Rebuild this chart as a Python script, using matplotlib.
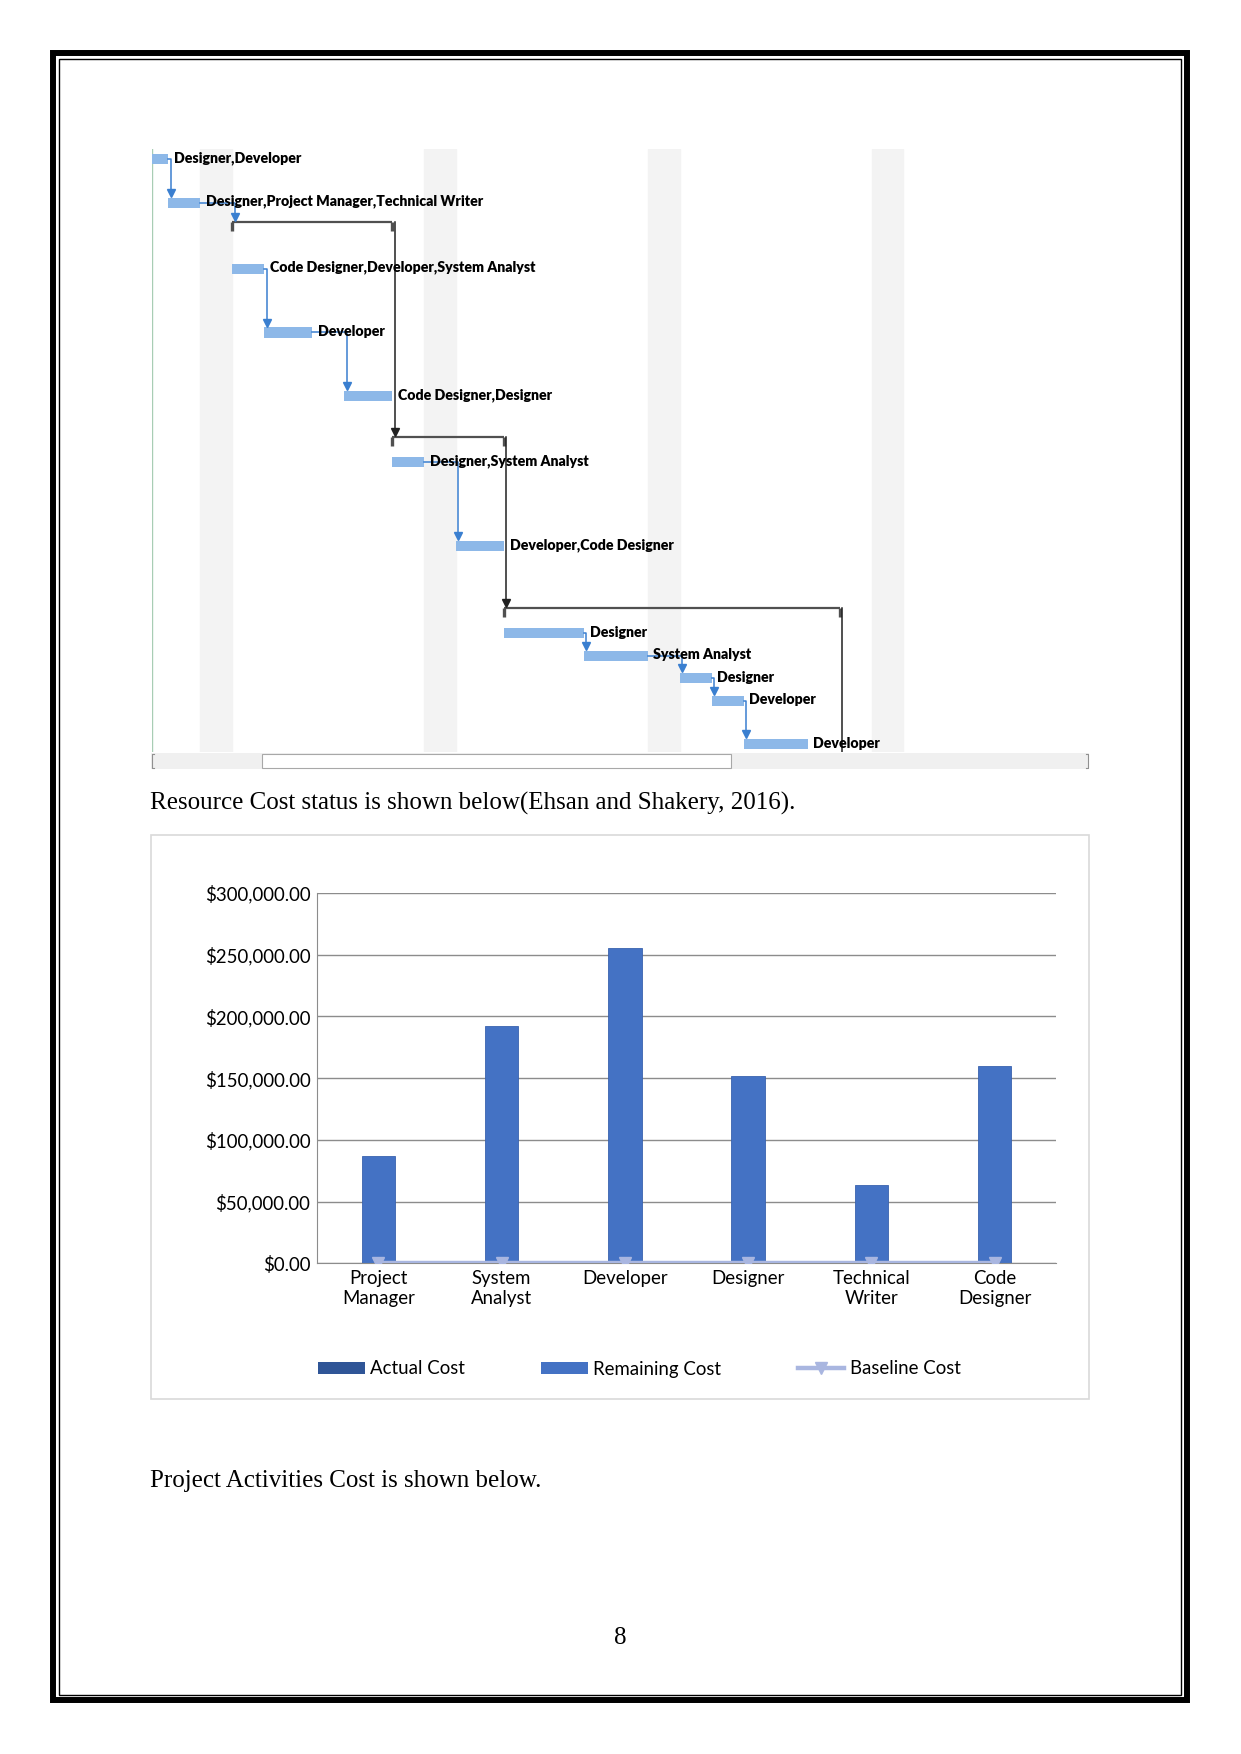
import numpy as np
import matplotlib
matplotlib.use("Agg")
import matplotlib.pyplot as plt
from matplotlib.patches import Rectangle
from matplotlib.lines import Line2D

# ---------------------------------------------------------------- data

# gantt tasks: resource label, start (days), duration (days), row (table lines)
task_labels = ["Designer,Developer",
               "Designer,Project Manager,Technical Writer",
               "Code Designer,Developer,System Analyst",
               "Developer",
               "Code Designer,Designer",
               "Designer,System Analyst",
               "Developer,Code Designer",
               "Designer",
               "System Analyst",
               "Designer",
               "Developer",
               "Developer"]
task_start = [0.0, 0.5, 2.5, 3.5, 6.0, 7.5, 9.5, 11.0, 13.5, 16.5, 17.5, 18.5]
task_dur = [0.5, 1.0, 1.0, 1.5, 1.5, 1.0, 1.5, 2.5, 2.0, 1.0, 1.0, 2.0]
task_row = [0.45, 2.4, 5.35, 8.2, 11.05, 14.0, 17.75, 21.65, 22.65, 23.65, 24.65, 26.6]

# summary tasks: start, finish, row
summ_start = [2.5, 7.5, 11.0]
summ_end = [7.5, 11.0, 21.5]
summ_row = [3.25, 12.85, 20.5]

# finish-to-start links between tasks (pred, succ); "S" = summary
links = [(0, 1), (1, "S0"), (2, 3), (3, 4), (5, 6), (7, 8), (8, 9), (9, 10), (10, 11)]
weekend_start = [1.5, 8.5, 15.5, 22.5]

# resource cost chart
resources = ["Project\nManager", "System\nAnalyst", "Developer", "Designer",
             "Technical\nWriter", "Code\nDesigner"]
actual_cost = [0, 0, 0, 0, 0, 0]
remaining_cost = [87000, 192000, 255600, 151400, 63400, 159500]
baseline_cost = [0, 0, 0, 0, 0, 0]

# ---------------------------------------------------------------- page

W, H = 1241, 1754
fig = plt.figure(figsize=(W / 100, H / 100), dpi=100)
page = fig.add_axes([0, 0, 1, 1])
page.set_xlim(0, W)
page.set_ylim(H, 0)
page.axis("off")

page.add_patch(Rectangle((53, 53), 1187 - 53, 1700 - 53, fill=False, ec="black", lw=4.3))
page.add_patch(Rectangle((58.5, 58.5), 1181 - 58.5, 1695 - 58.5, fill=False, ec="black", lw=1.0))

serif = "Liberation Serif"
page.text(150, 803, "Resource Cost status is shown below(Ehsan and Shakery, 2016).",
          family=serif, fontsize=18.0, va="center", ha="left")
page.text(150, 1481, "Project Activities Cost is shown below.",
          family=serif, fontsize=18.0, va="center", ha="left")
page.text(620, 1638, "8", family=serif, fontsize=18.0, va="center", ha="center")

# gantt scroll bar
page.add_patch(Rectangle((151, 753), 1089 - 151, 16, fc="#F0F0F0", ec="none"))
page.add_patch(Rectangle((262, 754), 731 - 262, 14, fc="white", ec="#A8A8A8", lw=0.8))
for xe, d in ((152, 2), (1088, -2)):
    page.plot([xe + d, xe, xe, xe + d], [754, 754, 768, 768], color="#909090", lw=0.8)

# chart frame
page.add_patch(Rectangle((151, 835), 1089 - 151, 1399 - 835, fill=False, ec="#D9D9D9", lw=1.2))

# ---------------------------------------------------------------- gantt

gx0, gx1, gy0, gy1 = 152.2, 1089, 149, 752
day_px = 31.97
gantt = fig.add_axes([gx0 / W, 1 - gy1 / H, (gx1 - gx0) / W, (gy1 - gy0) / H])
gantt.set_xlim(0, (gx1 - gx0) / day_px)
gantt.set_ylim(26.95, 0)
gantt.axis("off")
gantt.patch.set_alpha(0)

for ws in weekend_start:
    gantt.axvspan(ws, ws + 1, color="#F3F3F3", zorder=0)
gantt.axvline(0, color="#A8CDB4", lw=1.0, zorder=1)

bh = 0.45
bar_col = "#8DB8E8"
link_col = "#3A7FD0"

for lab, s, d, r in zip(task_labels, task_start, task_dur, task_row):
    gantt.add_patch(Rectangle((s, r - bh / 2), d, bh, fc=bar_col, ec="none", zorder=2))
    gantt.text(s + d + 0.18, r - 0.05, lab, family="Lato", fontweight="heavy",
               fontsize=10.2, va="center", ha="left", zorder=4)

for s, e, r in zip(summ_start, summ_end, summ_row):
    gantt.plot([s, e], [r, r], color="#505050", lw=1.6, zorder=3, solid_capstyle="butt")
    for xx in (s, e):
        gantt.plot([xx, xx], [r, r + 0.42], color="#505050", lw=2.4, zorder=3,
                   solid_capstyle="butt")

for p, q in links:
    p_end = task_start[p] + task_dur[p]
    pr = task_row[p]
    if isinstance(q, str):
        i = int(q[1:])
        q_start, q_top = summ_start[i], summ_row[i]
    else:
        q_start, q_top = task_start[q], task_row[q] - bh / 2
    vx = q_start + 0.08
    gantt.plot([p_end, vx, vx], [pr, pr, q_top - 0.2], color=link_col, lw=1.1, zorder=3)
    gantt.plot([vx], [q_top - 0.22], marker="v", color=link_col, ms=5.5, zorder=3)

# links between summary tasks (black)
for i in range(len(summ_start) - 1):
    vx = summ_end[i] + 0.08
    gantt.plot([vx, vx], [summ_row[i], summ_row[i + 1] - 0.2], color="#202020", lw=1.1, zorder=3)
    gantt.plot([vx], [summ_row[i + 1] - 0.22], marker="v", color="#202020", ms=5.5, zorder=3)
vx = summ_end[-1] + 0.08
gantt.plot([vx, vx], [summ_row[-1], 26.95], color="#202020", lw=1.1, zorder=3)

# ---------------------------------------------------------------- cost chart

cx0, cx1, cy0, cy1 = 316.7, 1056.3, 893, 1263.4
ax = fig.add_axes([cx0 / W, 1 - cy1 / H, (cx1 - cx0) / W, (cy1 - cy0) / H])
ax.patch.set_alpha(0)
x = np.arange(len(resources))
bw = 0.27
fs = 13.4
ax.bar(x, actual_cost, bw, color="#2F5597", zorder=2)
ax.bar(x, remaining_cost, bw, bottom=actual_cost, color="#4472C4",
       edgecolor="#3A62AE", lw=0.6, zorder=2)
ax.plot(x, baseline_cost, color="#A9B6E0", lw=3.2, marker="v", ms=8,
        zorder=3, solid_capstyle="butt")

ax.set_xlim(-0.5, len(resources) - 0.5)
ax.set_ylim(0, 300000)
yt = np.arange(0, 300001, 50000)
ax.set_yticks(yt)
ax.set_yticklabels(["${:,.2f}".format(v) for v in yt], family="Lato", fontsize=fs)
ax.set_xticks(x)
ax.set_xticklabels(resources, family="Lato", fontsize=fs, linespacing=1.2)
ax.tick_params(axis="y", length=0, pad=4.5)
ax.tick_params(axis="x", length=0, pad=5)
ax.yaxis.grid(True, color="#8C8C8C", lw=1.0, zorder=0)
for sp in ("top", "right"):
    ax.spines[sp].set_visible(False)
ax.spines["left"].set_color("#8C8C8C")
ax.spines["bottom"].set_color("#8C8C8C")

handles = [Rectangle((0, 0), 1, 1, fc="#2F5597"),
           Rectangle((0, 0), 1, 1, fc="#4472C4"),
           Line2D([], [], color="#A9B6E0", lw=3.2, marker="v", ms=8)]
fig.legend(handles, ["Actual Cost", "Remaining Cost", "Baseline Cost"],
           loc="center left", bbox_to_anchor=(318 / W, 1 - 1369 / H), ncol=3,
           frameon=False, prop={"family": "Lato", "size": fs},
           handlelength=2.5, handleheight=0.65, handletextpad=0.3,
           columnspacing=4.1, borderpad=0, borderaxespad=0)

fig.savefig("out.png", dpi=100)
